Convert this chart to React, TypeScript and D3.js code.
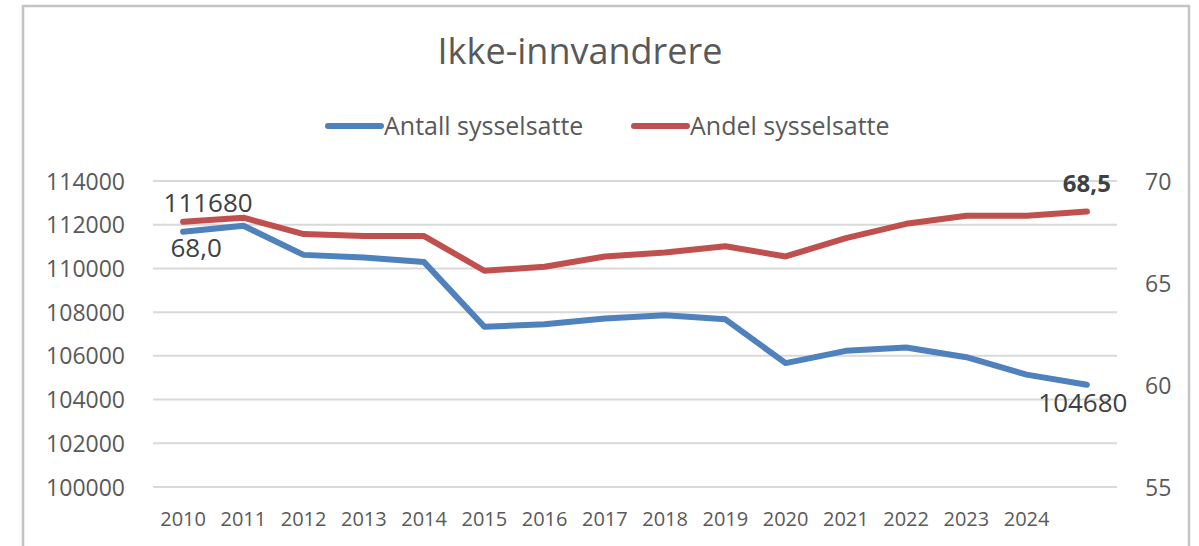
import * as d3 from "d3";
import React from "react";

// categories (last year has no tick label in the original)
const years = ["2010", "2011", "2012", "2013", "2014", "2015", "2016", "2017", "2018", "2019", "2020", "2021", "2022", "2023", "2024", "2025"];
const tickLabels = ["2010", "2011", "2012", "2013", "2014", "2015", "2016", "2017", "2018", "2019", "2020", "2021", "2022", "2023", "2024", ""];

// Antall sysselsatte (left axis)
const antall = [111680, 111950, 110620, 110500, 110290, 107330, 107450, 107710, 107860, 107670, 105670, 106230, 106380, 105940, 105140, 104680];
// Andel sysselsatte, prosent (right axis)
const andel = [68.0, 68.2, 67.4, 67.3, 67.3, 65.6, 65.8, 66.3, 66.5, 66.8, 66.3, 67.2, 67.9, 68.3, 68.3, 68.5];

const leftTicks = [100000, 102000, 104000, 106000, 108000, 110000, 112000, 114000];
const rightTicks = [55, 60, 65, 70];

const width = 1199;
const height = 546;
const font = "'Open Sans', 'DejaVu Sans', sans-serif";
const blue = "#4F81BD";
const red = "#C0504D";
const textColor = "#595959";

export default function App() {
  const x = d3.scalePoint<string>().domain(years).range([153, 1117]).padding(0.5);
  const yL = d3.scaleLinear().domain([100000, 114000]).range([487, 181]);
  const yR = d3.scaleLinear().domain([55, 70]).range([487, 181]);

  const lineL = d3
    .line<number>()
    .x((_, i) => x(years[i]) as number)
    .y((d) => yL(d));
  const lineR = d3
    .line<number>()
    .x((_, i) => x(years[i]) as number)
    .y((d) => yR(d));

  const first = x(years[0]) as number;
  const last = x(years[years.length - 1]) as number;
  const fmt = (v: number) => v.toFixed(1).replace(".", ",");

  return (
    <svg
      width={width}
      height={height}
      style={{ position: "absolute", left: 0, top: 0, background: "#fff" }}
      fontFamily={font}
    >
      {/* chart frame */}
      <path d={`M23,${height} V6 H1189 V${height}`} fill="none" stroke="#c4c4c4" strokeWidth={2.5} />

      <text x={580} y={64} textAnchor="middle" fontSize={36} fill={textColor}>
        Ikke-innvandrere
      </text>

      {/* legend */}
      <line x1={328} x2={381} y1={126} y2={126} stroke={blue} strokeWidth={6} strokeLinecap="round" />
      <text x={384} y={135} fontSize={25} fill={textColor}>Antall sysselsatte</text>
      <line x1={634} x2={687} y1={126} y2={126} stroke={red} strokeWidth={6} strokeLinecap="round" />
      <text x={690} y={135} fontSize={25} fill={textColor}>Andel sysselsatte</text>

      {/* gridlines */}
      {leftTicks.map((t) => (
        <line key={t} x1={153} x2={1117} y1={yL(t)} y2={yL(t)} stroke="#d9d9d9" strokeWidth={2} />
      ))}

      {/* left axis */}
      {leftTicks.map((t) => (
        <text key={t} x={125} y={yL(t) + 8.5} textAnchor="end" fontSize={23} fill={textColor}>
          {t}
        </text>
      ))}

      {/* right axis */}
      {rightTicks.map((t) => (
        <text key={t} x={1145} y={yR(t) + 8.5} fontSize={23} fill={textColor}>
          {t}
        </text>
      ))}

      {/* x axis labels */}
      {years.map((yr, i) => (
        <text key={yr} x={x(yr)} y={526} textAnchor="middle" fontSize={20} fill={textColor}>
          {tickLabels[i]}
        </text>
      ))}

      <path d={lineL(antall) ?? ""} fill="none" stroke={blue} strokeWidth={6} strokeLinejoin="round" strokeLinecap="round" />
      <path d={lineR(andel) ?? ""} fill="none" stroke={red} strokeWidth={6} strokeLinejoin="round" strokeLinecap="round" />

      {/* data labels */}
      <text x={first + 25} y={yL(antall[0]) - 20} textAnchor="middle" fontSize={26} fill="#404040">
        {antall[0]}
      </text>
      <text x={first + 13} y={yR(andel[0]) + 35} textAnchor="middle" fontSize={26} fill="#404040">
        {fmt(andel[0])}
      </text>
      <text x={last - 4} y={yL(antall[antall.length - 1]) + 27} textAnchor="middle" fontSize={26} fill="#404040">
        {antall[antall.length - 1]}
      </text>
      <text x={last} y={yR(andel[andel.length - 1]) - 20} textAnchor="middle" fontSize={24} fontWeight="bold" fill="#404040">
        {fmt(andel[andel.length - 1])}
      </text>
    </svg>
  );
}
